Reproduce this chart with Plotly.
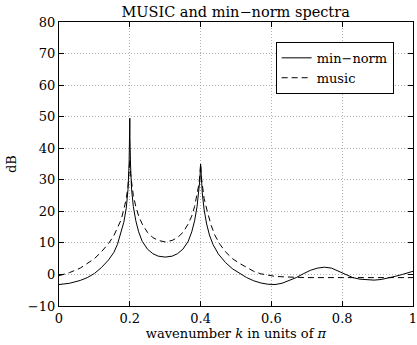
import plotly.graph_objects as go

# min-norm spectrum (solid)
k_minnorm = [0, 0.03, 0.06, 0.08, 0.1, 0.12, 0.14, 0.155, 0.165, 0.175, 0.183, 0.19, 0.195, 0.198, 0.1995, 0.2,
             0.2005, 0.202, 0.205, 0.21, 0.217, 0.225, 0.235, 0.25, 0.265, 0.28, 0.3, 0.32, 0.335, 0.35, 0.365,
             0.375, 0.383, 0.39, 0.395, 0.398, 0.4, 0.402, 0.405, 0.41, 0.417, 0.425, 0.435, 0.45, 0.47, 0.49,
             0.51, 0.53, 0.55, 0.57, 0.59, 0.61, 0.63, 0.65, 0.67, 0.69, 0.71, 0.73, 0.75, 0.77, 0.79, 0.81,
             0.83, 0.85, 0.87, 0.89, 0.91, 0.93, 0.95, 0.97, 0.99, 1.0]
db_minnorm = [-3.2, -2.8, -1.9, -1.0, 0.3, 2.2, 4.6, 7.0, 9.5, 13.0, 16.5, 21.0, 27.0, 35.0, 43.0, 49.5,
              43.0, 35.0, 27.0, 21.5, 17.0, 13.5, 10.5, 8.0, 6.6, 5.8, 5.5, 5.8, 6.6, 8.0, 10.5,
              13.5, 17.0, 21.5, 26.0, 30.0, 35.0, 30.0, 25.5, 20.5, 16.0, 12.5, 9.5, 6.5, 3.8, 1.8,
              0.3, -1.0, -2.0, -2.7, -3.1, -3.2, -2.8, -2.0, -1.0, 0.2, 1.3, 2.0, 2.3, 2.0, 1.0, -0.2,
              -1.0, -1.5, -1.7, -1.8, -1.6, -1.2, -0.6, 0.0, 0.7, 1.0]

# MUSIC spectrum (dashed)
k_music = [0, 0.03, 0.06, 0.08, 0.1, 0.12, 0.14, 0.155, 0.165, 0.175, 0.183, 0.19, 0.195, 0.198, 0.2,
           0.202, 0.205, 0.21, 0.217, 0.225, 0.235, 0.25, 0.265, 0.28, 0.3, 0.32, 0.335, 0.35, 0.365,
           0.375, 0.383, 0.39, 0.395, 0.398, 0.4, 0.402, 0.405, 0.41, 0.42, 0.43, 0.44, 0.455, 0.47, 0.49,
           0.51, 0.53, 0.55, 0.57, 0.59, 0.61, 0.64, 0.7, 0.8, 0.9, 1.0]
db_music = [-0.4, 0.6, 2.0, 3.4, 5.0, 7.2, 9.8, 12.3, 14.5, 17.2, 20.5, 24.0, 28.0, 32.0, 36.5,
            32.0, 28.5, 25.0, 21.5, 18.5, 16.0, 13.3, 11.7, 10.8, 10.3, 10.8, 11.7, 13.3, 16.0,
            18.5, 21.5, 25.0, 28.5, 31.5, 35.0, 31.0, 27.5, 24.0, 19.5, 15.5, 12.5, 9.5, 7.2, 5.0,
            3.5, 2.2, 1.0, 0.2, -0.3, -0.6, -0.8, -1.0, -1.0, -1.1, -1.0]

x_ticks = [0, 0.2, 0.4, 0.6, 0.8, 1]
x_ticklabels = ["0", "0.2", "0.4", "0.6", "0.8", "1"]
y_ticks = [-10, 0, 10, 20, 30, 40, 50, 60, 70, 80]

FONT = "DejaVu Serif"

fig = go.Figure()
fig.add_trace(go.Scatter(x=k_minnorm, y=db_minnorm, mode="lines", name="min\u2212norm",
                         line=dict(color="black", width=1)))
fig.add_trace(go.Scatter(x=k_music, y=db_music, mode="lines", name="music",
                         line=dict(color="black", width=1, dash="6px,4px")))

axis_common = dict(showline=True, linecolor="black", linewidth=1.3, mirror="ticks",
                   ticks="inside", ticklen=5, tickcolor="black", showgrid=True,
                   gridcolor="#b0b0b0", griddash="1px,2px", gridwidth=1, zeroline=False,
                   ticklabeloverflow="allow",
                   tickfont=dict(family=FONT, size=13, color="black"))

fig.update_layout(
    width=417, height=345,
    margin=dict(l=59, r=0, t=22, b=39),
    paper_bgcolor="white", plot_bgcolor="white",
    title=dict(text="MUSIC and min\u2212norm spectra", x=0.565, xanchor="center", y=0.98, yanchor="top",
               font=dict(family=FONT, size=14.5, color="black")),
    xaxis=dict(range=[0, 1], tickvals=x_ticks, ticktext=x_ticklabels,
               title=dict(text="wavenumber <i>k</i> in units of <i>\u03c0</i>", standoff=2,
                          font=dict(family=FONT, size=13, color="black")),
               **axis_common),
    yaxis=dict(range=[-10, 80], tickvals=y_ticks,
               title=dict(text="dB", standoff=8, font=dict(family=FONT, size=13, color="black")),
               **axis_common),
    legend=dict(x=0.612, y=0.93, xanchor="left", yanchor="top", bgcolor="white",
                bordercolor="black", borderwidth=1, font=dict(family=FONT, size=13, color="black"),
                tracegroupgap=0, itemwidth=30),
    showlegend=True,
)

fig.write_html("out.html")
